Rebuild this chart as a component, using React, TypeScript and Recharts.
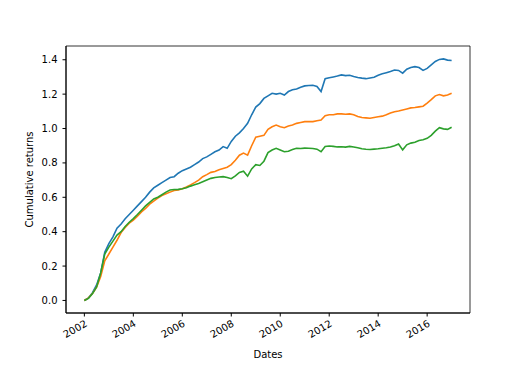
import React from "react";
import {
  LineChart,
  Line,
  XAxis,
  YAxis,
  ReferenceArea,
} from "recharts";

// sample points every two months, as decimal years
const dates = [
  2002.0, 2002.167, 2002.333, 2002.5, 2002.667, 2002.833,
  2003.0, 2003.167, 2003.333, 2003.5, 2003.667, 2003.833,
  2004.0, 2004.167, 2004.333, 2004.5, 2004.667, 2004.833,
  2005.0, 2005.167, 2005.333, 2005.5, 2005.667, 2005.833,
  2006.0, 2006.167, 2006.333, 2006.5, 2006.667, 2006.833,
  2007.0, 2007.167, 2007.333, 2007.5, 2007.667, 2007.833,
  2008.0, 2008.167, 2008.333, 2008.5, 2008.667, 2008.833,
  2009.0, 2009.167, 2009.333, 2009.5, 2009.667, 2009.833,
  2010.0, 2010.167, 2010.333, 2010.5, 2010.667, 2010.833,
  2011.0, 2011.167, 2011.333, 2011.5, 2011.667, 2011.833,
  2012.0, 2012.167, 2012.333, 2012.5, 2012.667, 2012.833,
  2013.0, 2013.167, 2013.333, 2013.5, 2013.667, 2013.833,
  2014.0, 2014.167, 2014.333, 2014.5, 2014.667, 2014.833,
  2015.0, 2015.167, 2015.333, 2015.5, 2015.667, 2015.833,
  2016.0, 2016.167, 2016.333, 2016.5, 2016.667, 2016.833,
  2017.0,
];

const blueSeries = [
  0.0, 0.015, 0.045, 0.09, 0.16, 0.28,
  0.33, 0.37, 0.42, 0.445, 0.475, 0.5,
  0.525, 0.55, 0.575, 0.6, 0.63, 0.655,
  0.67, 0.685, 0.7, 0.715, 0.72, 0.74,
  0.755, 0.765, 0.775, 0.79, 0.805, 0.825,
  0.835, 0.85, 0.865, 0.875, 0.895, 0.885,
  0.925, 0.955, 0.975, 1.0, 1.03, 1.08,
  1.125, 1.145, 1.175, 1.19, 1.205, 1.2,
  1.205, 1.195, 1.215, 1.225, 1.23, 1.24,
  1.248, 1.25, 1.252, 1.245, 1.215, 1.29,
  1.295, 1.3, 1.305, 1.312, 1.308, 1.31,
  1.303, 1.297, 1.293, 1.29, 1.294, 1.298,
  1.31, 1.318, 1.325, 1.332, 1.34, 1.338,
  1.322, 1.345, 1.355, 1.36, 1.355, 1.338,
  1.35, 1.37, 1.39, 1.402, 1.405, 1.398,
  1.396,
];

const orangeSeries = [
  0.0, 0.015, 0.04, 0.078, 0.14, 0.23,
  0.27, 0.31, 0.35, 0.395, 0.425, 0.45,
  0.467, 0.49, 0.515, 0.535, 0.56, 0.578,
  0.595, 0.61, 0.62, 0.63, 0.64, 0.643,
  0.65, 0.66, 0.672, 0.685, 0.7, 0.72,
  0.732, 0.745, 0.75, 0.76, 0.768, 0.775,
  0.79, 0.815, 0.845, 0.857, 0.845, 0.9,
  0.95, 0.955, 0.96, 0.995, 1.01, 1.02,
  1.01, 1.005, 1.015, 1.02, 1.03, 1.035,
  1.04, 1.04, 1.04, 1.045, 1.05, 1.075,
  1.08, 1.08, 1.085, 1.085, 1.083, 1.085,
  1.08, 1.07, 1.064, 1.062, 1.06, 1.064,
  1.068, 1.072, 1.08, 1.09, 1.098, 1.102,
  1.108, 1.114, 1.12, 1.122, 1.126, 1.13,
  1.148, 1.168, 1.19, 1.198, 1.19, 1.195,
  1.205,
];

const greenSeries = [
  0.0, 0.012, 0.04, 0.078, 0.16, 0.27,
  0.31, 0.345, 0.38, 0.4, 0.43, 0.455,
  0.476, 0.5, 0.525, 0.55, 0.57, 0.59,
  0.6, 0.615, 0.63, 0.642, 0.645, 0.646,
  0.65, 0.656, 0.665, 0.673, 0.68, 0.69,
  0.7, 0.71, 0.715, 0.718, 0.72, 0.715,
  0.708, 0.725, 0.745, 0.752, 0.723, 0.765,
  0.79, 0.785, 0.81, 0.86, 0.875, 0.885,
  0.875, 0.865, 0.868, 0.878, 0.885, 0.884,
  0.886, 0.885, 0.884, 0.88, 0.865, 0.895,
  0.898, 0.896, 0.893, 0.894, 0.892, 0.896,
  0.893, 0.888, 0.882, 0.879, 0.878, 0.88,
  0.882, 0.885, 0.888, 0.892, 0.9, 0.91,
  0.876, 0.905, 0.915, 0.92, 0.93, 0.935,
  0.943, 0.96, 0.985, 1.005, 0.998, 0.995,
  1.007,
];

const xTicks = [2002, 2004, 2006, 2008, 2010, 2012, 2014, 2016];
const yTicks = [0, 0.2, 0.4, 0.6, 0.8, 1.0, 1.2, 1.4];

const X_DOMAIN: [number, number] = [2001.25, 2017.75];
const Y_DOMAIN: [number, number] = [-0.073, 1.48];

const data = dates.map((d, i) => ({
  date: d,
  a: blueSeries[i],
  b: orangeSeries[i],
  c: greenSeries[i],
}));

const FONT = "'DejaVu Sans', sans-serif";

const YLabel = (props: any) => {
  const { viewBox } = props;
  const cx = viewBox.x + viewBox.width / 2 - 3.5;
  const cy = viewBox.y + viewBox.height / 2;
  return (
    <text
      x={cx}
      y={cy}
      transform={`rotate(-90, ${cx}, ${cy})`}
      textAnchor="middle"
      dominantBaseline="central"
      fontSize={10}
      fontFamily={FONT}
      fill="#000"
    >
      Cumulative returns
    </text>
  );
};

export default function App() {
  return (
    <div style={{ position: "absolute", left: 0, top: 0, width: 523, height: 392, background: "#fff" }}>
      <LineChart
        width={523}
        height={392}
        data={data}
        margin={{ top: 46, right: 53, left: 0, bottom: 0 }}
      >
        <XAxis
          dataKey="date"
          type="number"
          domain={X_DOMAIN}
          ticks={xTicks}
          allowDataOverflow
          height={79}
          tickSize={3.5}
          tickMargin={3}
          angle={-30}
          textAnchor="end"
          stroke="#000"
          tick={{ fontSize: 10, fill: "#000", fontFamily: FONT }}
          label={{
            value: "Dates",
            position: "insideBottom",
            offset: 34,
            fontSize: 10,
            fill: "#000",
            fontFamily: FONT,
          }}
        />
        <YAxis
          type="number"
          domain={Y_DOMAIN}
          ticks={yTicks}
          allowDataOverflow
          width={66}
          tickSize={3.5}
          tickMargin={5}
          stroke="#000"
          tickFormatter={(v: number) => v.toFixed(1)}
          tick={{ fontSize: 10, fill: "#000", fontFamily: FONT }}
          label={<YLabel />}
        />
        <ReferenceArea
          x1={X_DOMAIN[0]}
          x2={X_DOMAIN[1]}
          y1={Y_DOMAIN[0]}
          y2={Y_DOMAIN[1]}
          stroke="#000"
          strokeWidth={0.8}
          fill="none"
          fillOpacity={0}
        />
        <Line type="linear" dataKey="a" stroke="#1f77b4" strokeWidth={1.6} dot={false} isAnimationActive={false} />
        <Line type="linear" dataKey="b" stroke="#ff7f0e" strokeWidth={1.6} dot={false} isAnimationActive={false} />
        <Line type="linear" dataKey="c" stroke="#2ca02c" strokeWidth={1.6} dot={false} isAnimationActive={false} />
      </LineChart>
    </div>
  );
}
